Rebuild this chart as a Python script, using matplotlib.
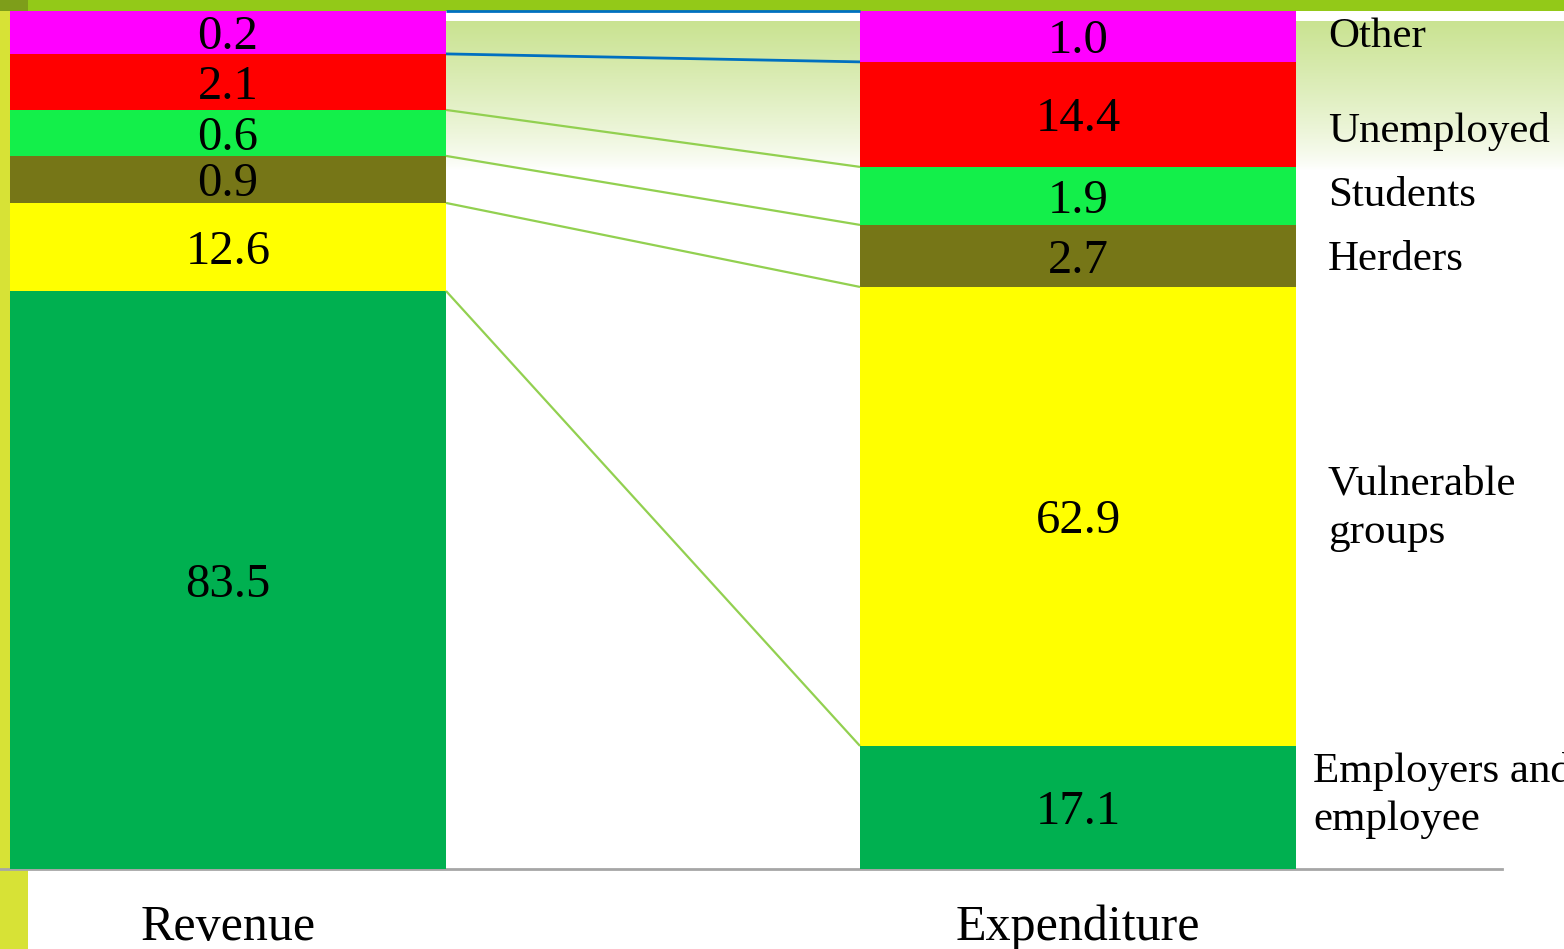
import numpy as np
import matplotlib
matplotlib.use("Agg")
import matplotlib.pyplot as plt
from matplotlib.patches import Rectangle

# ---------------- data ----------------
categories = ["Revenue", "Expenditure"]
groups = ["Employers and\nemployee", "Vulnerable\ngroups", "Herders", "Students", "Unemployed", "Other"]
revenue_values = [83.5, 12.6, 0.9, 0.6, 2.1, 0.2]
expenditure_values = [17.1, 62.9, 2.7, 1.9, 14.4, 1.0]
# segment heights as drawn in the source graphic (percent of bar height)
revenue_shown = [67.37, 10.26, 5.48, 5.36, 6.53, 5.01]
expenditure_shown = [14.34, 53.50, 7.23, 6.76, 12.24, 5.94]
value_labels_rev = ["83.5", "12.6", "0.9", "0.6", "2.1", "0.2"]
value_labels_exp = ["17.1", "62.9", "2.7", "1.9", "14.4", "1.0"]

colors = ["#00B050", "#FFFF00", "#767617", "#13EF4A", "#FF0000", "#FF00FF"]
line_colors = ["#92D050", "#92D050", "#92D050", "#92D050", "#0070C0", "#0070C0"]

W, H = 1564, 949
PX = 100 / 858  # data units per pixel (vertical)
fig = plt.figure(figsize=(W / 100, H / 100), dpi=100)
fig.patch.set_facecolor("white")

# ---------------- background decorations (pixel coords) ----------------
bg = fig.add_axes([0, 0, 1, 1], zorder=0)
bg.set_xlim(0, W)
bg.set_ylim(H, 0)
bg.axis("off")
top_col = np.array([0.79, 0.89, 0.57])
n = 200
t = np.linspace(0, 1, n)[:, None]
f = np.clip(1 - t, 0, 1) ** 0.8
grad = top_col[None, :] * f + np.ones(3)[None, :] * (1 - f)
grad = np.repeat(grad[:, None, :], 2, axis=1)
bg.imshow(grad, extent=[446, W, 170, 21], aspect="auto", interpolation="bilinear", zorder=0)
bg.add_patch(Rectangle((0, 0), W, 10.5, color="#93C918", lw=0, zorder=2))
bg.add_patch(Rectangle((0, 0), 28, 10.5, color="#7E9E1A", lw=0, zorder=3))
bg.add_patch(Rectangle((0, 10), 10, 860, color="#D7E236", lw=0, zorder=2))
bg.add_patch(Rectangle((0, 869), 28, 80, color="#D7E236", lw=0, zorder=2))

# ---------------- main axes ----------------
ax = fig.add_axes([0, 0, 1, 1], zorder=1)
ax.patch.set_alpha(0)
ax.axis("off")
x = np.arange(len(categories))
width = 436 / 850
ax.set_xlim(-228 / 850, (W - 228) / 850)
ax.set_ylim((869 - H) * PX, 869 * PX)

serif = "Liberation Serif"
stacks = [(revenue_shown, value_labels_rev), (expenditure_shown, value_labels_exp)]
cum_tops = []
for i, (heights, labels) in enumerate(stacks):
    bottom = 0.0
    tops = []
    for h, c, lab in zip(heights, colors, labels):
        ax.bar(x[i], h, width=width, bottom=bottom, color=c, linewidth=0, zorder=2)
        ax.text(x[i], bottom + h / 2, lab, ha="center", va="center_baseline",
                fontsize=35, family=serif, color="black", zorder=4)
        bottom += h
        tops.append(bottom)
    cum_tops.append([0.0] + tops)

# connector lines between segment boundaries
rev_b = cum_tops[0]
exp_b = cum_tops[1]
xl = x[0] + width / 2
xr = x[1] - width / 2
for k in range(1, len(rev_b)):
    blue = line_colors[k - 1] == "#0070C0"
    ax.plot([xl, xr], [rev_b[k], exp_b[k]], color=line_colors[k - 1],
            lw=2.0 if blue else 1.6, zorder=3, solid_capstyle="butt")

# baseline
ax.plot([-228 / 850, (1502 - 228) / 850], [0, 0], color="#A6A6A6", lw=2, zorder=1)

# right-hand group labels
label_offsets_px = [-12, -8, 4, 0, 17, 0]
b = exp_b
for k, g in enumerate(groups):
    cy = (b[k] + b[k + 1]) / 2 - label_offsets_px[k] * PX
    xx = (1313 - 228) / 850 if k == 0 else (1328 - 228) / 850
    ax.text(xx, cy, g, ha="left", va="center", fontsize=31, family=serif,
            linespacing=1.32, color="black", zorder=4)

# category labels
for i, c in enumerate(categories):
    ax.text(x[i], (869 - 940) * PX, c, ha="center", va="baseline",
            fontsize=36, family=serif, color="black", zorder=4)

fig.savefig("out.png", dpi=100)
